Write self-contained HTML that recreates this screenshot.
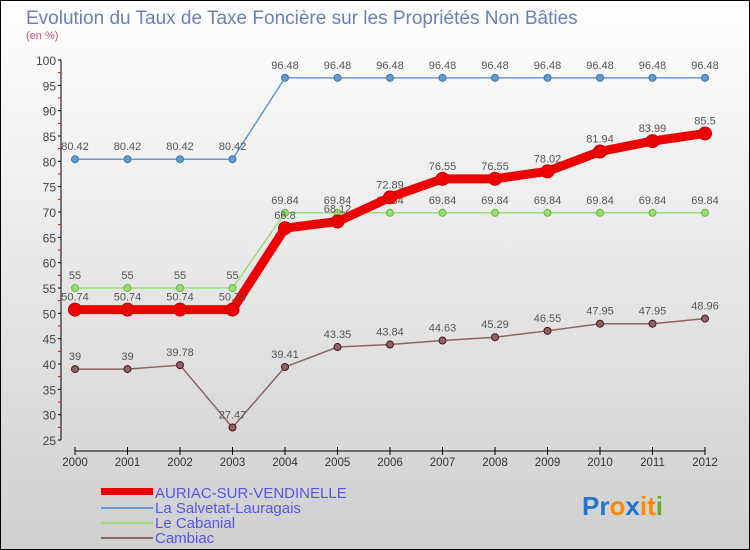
<!DOCTYPE html>
<html><head><meta charset="utf-8"><style>
body{margin:0}
#c{width:750px;height:550px;position:relative;overflow:hidden}
text{font-family:"Liberation Sans",sans-serif}
</style></head><body>
<div id="c">
<svg id="s" width="750" height="550" xmlns="http://www.w3.org/2000/svg">
<defs><linearGradient id="bg" x1="0" y1="0" x2="0" y2="1"><stop offset="0" stop-color="#ffffff"/><stop offset="1" stop-color="#cfcfcf"/></linearGradient></defs>
<rect x="0.5" y="0.5" width="749" height="549" fill="url(#bg)" stroke="#000"/>
<text x="26" y="24" font-size="19" fill="#6b7fb8">Evolution du Taux de Taxe Foncière sur les Propriétés Non Bâties</text>
<text x="26" y="39" font-size="11" fill="#d05070">(en %)</text>
<g id="axes"></g><g id="series"></g>
<g>
<rect x="101" y="488" width="52" height="7" fill="#ee0000"/>
<text x="155" y="498" font-size="15" fill="#5555ee">AURIAC-SUR-VENDINELLE</text>
<rect x="101" y="507" width="52" height="2" fill="#6699cc"/>
<text x="155" y="513" font-size="15" fill="#5555ee">La Salvetat-Lauragais</text>
<rect x="101" y="522" width="52" height="2" fill="#99dd77"/>
<text x="155" y="528" font-size="15" fill="#5555ee">Le Cabanial</text>
<rect x="101" y="537" width="52" height="2" fill="#886666"/>
<text x="155" y="543" font-size="15" fill="#5555ee">Cambiac</text>
</g>
<text x="582" y="515" font-size="26" font-weight="bold"><tspan fill="#2277cc">Pr</tspan><tspan fill="#ff8800">o</tspan><tspan fill="#2277cc">x</tspan><tspan fill="#ff8800">i</tspan><tspan fill="#ff8800">t</tspan><tspan fill="#66aa22">i</tspan></text>
</svg></div>
<script>
const years=[2000,2001,2002,2003,2004,2005,2006,2007,2008,2009,2010,2011,2012];
const auriac=[50.74,50.74,50.74,50.74,66.8,68.12,72.89,76.55,76.55,78.02,81.94,83.99,85.5];
const salvetat=[80.42,80.42,80.42,80.42,96.48,96.48,96.48,96.48,96.48,96.48,96.48,96.48,96.48];
const cabanial=[55,55,55,55,69.84,69.84,69.84,69.84,69.84,69.84,69.84,69.84,69.84];
const cambiac=[39,39,39.78,27.47,39.41,43.35,43.84,44.63,45.29,46.55,47.95,47.95,48.96];
const yTicks=[25,30,35,40,45,50,55,60,65,70,75,80,85,90,95,100];
const NS="http://www.w3.org/2000/svg";
const X=i=>75+i*52.5, Y=v=>440-(v-25)*(380/75);
function mk(t,a,p){const e=document.createElementNS(NS,t);for(const k in a)e.setAttribute(k,a[k]);p.appendChild(e);return e;}
const ax=document.getElementById('axes');
let l=mk('line',{x1:61,y1:Y(100),x2:61,y2:Y(25),stroke:'#000'},ax);


yTicks.forEach(v=>{
 let t=mk('line',{x1:58,x2:61,y1:Y(v),y2:Y(v),stroke:'#000'},ax);
 
 
 if(v<100){let m=mk('line',{x1:58,x2:61,y1:Y(v+2.5),y2:Y(v+2.5),stroke:'#e00'},ax);
 
 }
 let tx=mk('text',{x:56,y:Y(v)+5,'font-size':12,fill:'#444','text-anchor':'end'},ax);tx.textContent=v;
 
 
});
let xl=mk('line',{x1:X(0),x2:X(12),y1:451,y2:451,stroke:'#000'},ax);


years.forEach((y,i)=>{
 let t=mk('line',{x1:X(i),x2:X(i),y1:447,y2:455,stroke:'#000'},ax);
 
 
 let tx=mk('text',{x:X(i),y:466,'font-size':11.5,fill:'#333','text-anchor':'middle'},ax);tx.textContent=y;
 
 
});
const sg=document.getElementById('series');
function draw(name,vals,color,dark,w,r){
 const g=mk('g',{},sg);
 
 
 let pl=mk('polyline',{points:vals.map((v,i)=>X(i)+','+Y(v)).join(' '),fill:'none',stroke:color,'stroke-width':w},g);
 
 
 vals.forEach((v,i)=>{
  let c=mk('circle',{cx:X(i),cy:Y(v),r:r,fill:color,stroke:dark,'stroke-width':1},g);
  
  
  let t=mk('text',{x:X(i),y:Y(v)-9,'font-size':11,fill:'#555','text-anchor':'middle'},g);t.textContent=v;
  
  
 });
}
draw('salvetat',salvetat,'#6699cc','#3377bb',1.5,3.5);
draw('cabanial',cabanial,'#99dd77','#66bb33',1.5,3.5);
draw('cambiac',cambiac,'#886666','#551111',1.5,3.5);
draw('auriac',auriac,'#ee0000','#cc0000',9,6.5);
</script>
</body></html>
